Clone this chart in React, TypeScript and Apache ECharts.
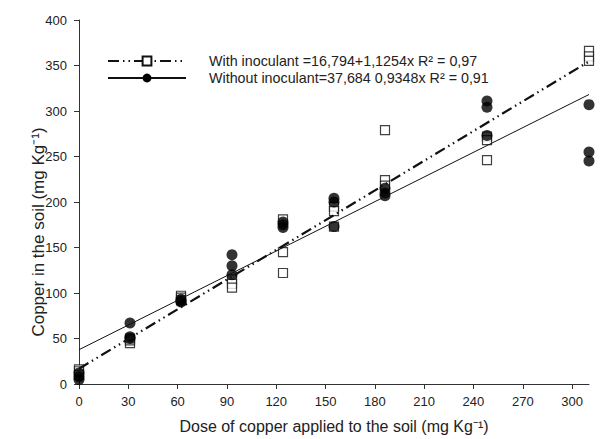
import React, { useEffect, useRef } from "react";
import * as echarts from "echarts";

const doses = [0, 30, 60, 90, 120, 150, 180, 240, 300];
const withInoculant = [
  [16, 14, 10],
  [45, 48, 50],
  [97, 95, 92],
  [115, 110, 106],
  [181, 145, 122],
  [195, 190, 173],
  [279, 224, 218],
  [272, 268, 246],
  [366, 360, 355],
];
const withoutInoculant = [
  [12, 8, 5],
  [67, 52, 50],
  [93, 91, 90],
  [142, 130, 120],
  [178, 175, 172],
  [204, 200, 173],
  [215, 210, 207],
  [311, 304, 273],
  [307, 255, 245],
];
const xTickLabels = [0, 30, 60, 90, 120, 150, 180, 210, 240, 270, 300];
const yTickStep = 50;
const yMax = 400;
const withFit = { intercept: 16.794, slope: 1.1254 };
const withoutFit = { intercept: 37.684, slope: 0.9348 };
const withLabel = "With inoculant =16,794+1,1254x R² = 0,97";
const withoutLabel = "Without inoculant=37,684 0,9348x R² = 0,91";

const FONT = "Liberation Sans, Arial, sans-serif";

function points(vals: number[][]) {
  const out: number[][] = [];
  doses.forEach((d, i) => vals[i].forEach((v) => out.push([d, v])));
  return out;
}
function fitLine(f: { intercept: number; slope: number }) {
  const x0 = doses[0];
  const x1 = doses[doses.length - 1];
  return [
    [x0, f.intercept + f.slope * x0],
    [x1, f.intercept + f.slope * x1],
  ];
}

export default function App() {
  const ref = useRef<HTMLDivElement>(null);
  useEffect(() => {
    const chart = echarts.init(ref.current!, null, { renderer: "svg" });
    const axisColor = "#333";
    chart.setOption({
      animation: false,
      backgroundColor: "#fff",
      grid: { left: 79, top: 20, right: 13, bottom: 54, containLabel: false },
      legend: {
        orient: "vertical",
        left: 107,
        top: 54,
        padding: 0,
        itemWidth: 78,
        itemHeight: 11,
        itemGap: 3,
        data: [withLabel, withoutLabel],
        textStyle: {
          fontFamily: FONT,
          fontSize: 14.3,
          color: "#222",
          padding: [0, 0, 0, 18],
        },
      },
      xAxis: [
        {
          type: "value",
          min: 0,
          max: 310.3,
          axisLine: { show: true, lineStyle: { color: axisColor, width: 1 } },
          axisTick: {
            show: true,
            length: 5,
            lineStyle: { color: axisColor },
            customValues: xTickLabels,
          },
          axisLabel: {
            margin: 11,
            fontFamily: FONT,
            fontSize: 13,
            color: "#222",
            customValues: xTickLabels,
            formatter: (v: number) => (xTickLabels.indexOf(v) >= 0 ? String(v) : ""),
          },
          splitLine: { show: false },
          name: "Dose of copper applied to the soil (mg Kg⁻¹)",
          nameLocation: "middle",
          nameGap: 34,
          nameMoveOverlap: false,
          nameTextStyle: { fontFamily: FONT, fontSize: 16, color: "#222" },
        },
        { type: "value", min: 0, max: doses[doses.length - 1], show: false },
      ],
      yAxis: {
        type: "value",
        min: 0,
        max: yMax,
        interval: yTickStep,
        axisLine: { show: true, lineStyle: { color: axisColor, width: 1 } },
        axisTick: { show: true, length: 5, lineStyle: { color: axisColor } },
        axisLabel: { margin: 12, fontFamily: FONT, fontSize: 13, color: "#222" },
        splitLine: { show: false },
        name: "Copper in the soil (mg Kg⁻¹)",
        nameLocation: "middle",
        nameGap: 32,
        nameMoveOverlap: false,
        nameTextStyle: {
          fontFamily: FONT,
          fontSize: 17,
          color: "#222",
          padding: [0, 60, 0, 0],
        },
      },
      series: [
        {
          name: "With inoculant",
          type: "scatter",
          xAxisIndex: 1,
          symbol: "rect",
          symbolSize: 9,
          itemStyle: { color: "#fff", borderColor: "#111", borderWidth: 1.2 },
          data: points(withInoculant),
          z: 2,
        },
        {
          name: "Without inoculant",
          type: "scatter",
          xAxisIndex: 1,
          symbol: "circle",
          symbolSize: 11,
          itemStyle: { color: "#000" },
          data: points(withoutInoculant),
          z: 3,
        },
        {
          name: withLabel,
          type: "line",
          xAxisIndex: 1,
          symbol: "emptyRect",
          symbolSize: 9,
          showSymbol: false,
          itemStyle: { color: "#111", borderColor: "#111" },
          lineStyle: { color: "#111", width: 2.2, type: [11, 4, 1.5, 4, 1.5, 4] },
          data: fitLine(withFit),
          z: 4,
        },
        {
          name: withoutLabel,
          type: "line",
          xAxisIndex: 1,
          symbol: "circle",
          symbolSize: 10,
          showSymbol: false,
          itemStyle: { color: "#000" },
          lineStyle: { color: "#111", width: 1 },
          data: fitLine(withoutFit),
          z: 4,
        },
      ],
    });
    return () => chart.dispose();
  }, []);
  return <div ref={ref} style={{ width: 602, height: 439, position: "absolute", left: 0, top: 0 }} />;
}
